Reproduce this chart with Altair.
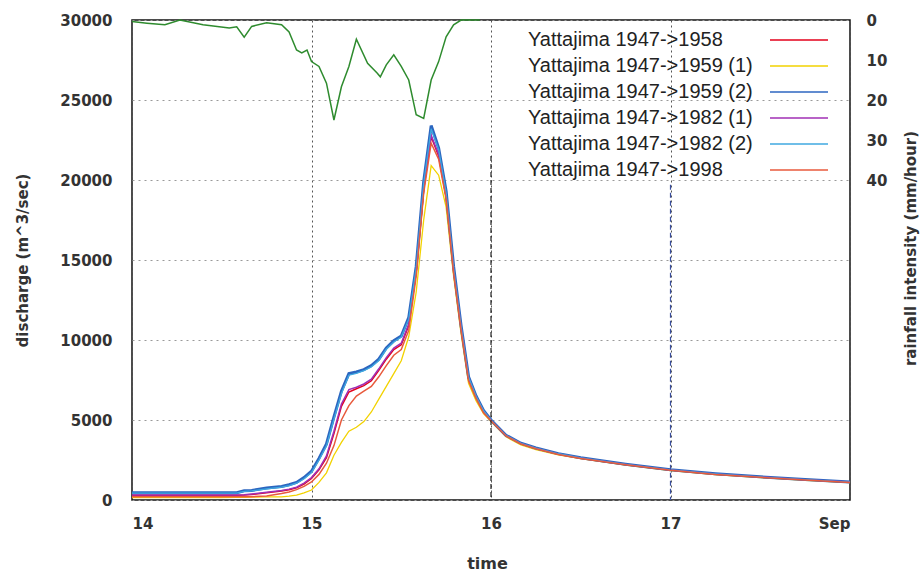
import altair as alt
import pandas as pd

# ---- data ----
hours = [0, 6, 12, 14, 15, 16, 18, 20, 21, 22, 23, 24, 25, 26, 27, 28, 29, 30, 31, 32,
         33, 34, 35, 36, 37, 38, 39, 40, 41, 42, 43, 44, 45, 46, 47, 48, 50, 52, 54, 57,
         60, 66, 72, 78, 84, 90, 96]

red_1958 = [290, 290, 290, 290, 310, 350, 450, 560, 640, 760, 1000, 1340, 1880, 2650, 4150,
            5850, 6750, 6950, 7150, 7450, 8100, 8800, 9400, 9700, 10900, 14250, 19400, 22700,
            21500, 18950, 14350, 10750, 7550, 6420, 5520, 4970, 4020, 3520, 3220, 2870, 2610,
            2210, 1870, 1610, 1430, 1260, 1110]
yellow_1959_1 = [150, 150, 150, 160, 170, 180, 190, 200, 240, 300, 450, 625, 1100, 1700, 2800,
                 3600, 4300, 4550, 4900, 5500, 6300, 7100, 7900, 8700, 10200, 13000, 17500, 20900,
                 20300, 18300, 14000, 10400, 7300, 6200, 5400, 4900, 3950, 3450, 3150, 2820, 2580,
                 2180, 1840, 1590, 1400, 1230, 1080]
blue_1959_2 = [456, 456, 456, 456, 580, 600, 750, 850, 950, 1100, 1400, 1800, 2600, 3500, 5200,
               6800, 7900, 8000, 8150, 8400, 8800, 9500, 9950, 10250, 11400, 14600, 19900, 23400,
               22000, 19300, 14600, 10900, 7700, 6500, 5600, 5000, 4050, 3550, 3250, 2900, 2640,
               2240, 1890, 1640, 1450, 1280, 1130]
purple_1982_1 = [310, 310, 310, 310, 330, 380, 480, 600, 680, 800, 1050, 1400, 1950, 2750, 4300,
                 6000, 6900, 7050, 7250, 7550, 8200, 8900, 9500, 9800, 11000, 14300, 19500, 22800,
                 21600, 19000, 14400, 10800, 7600, 6450, 5550, 4980, 4030, 3530, 3230, 2880, 2620,
                 2220, 1880, 1620, 1440, 1270, 1120]
lightblue_1982_2 = [430, 430, 430, 430, 540, 570, 700, 800, 900, 1050, 1330, 1720, 2500, 3380, 5050,
                    6650, 7800, 7920, 8080, 8320, 8720, 9420, 9880, 10180, 11300, 14500, 19800, 23200,
                    21900, 19200, 14500, 10850, 7680, 6480, 5590, 4990, 4040, 3540, 3240, 2890, 2630,
                    2230, 1880, 1630, 1440, 1270, 1120]
orange_1998 = [210, 210, 210, 210, 210, 210, 250, 400, 500, 650, 850, 1125, 1600, 2300, 3400,
               5000, 5900, 6500, 6800, 7100, 7700, 8400, 9050, 9400, 10600, 14000, 19200, 22300,
               21300, 18800, 14200, 10600, 7450, 6350, 5450, 4950, 4000, 3500, 3200, 2850, 2600,
               2200, 1860, 1600, 1420, 1250, 1100]

series_names = ["Yattajima 1947->1958", "Yattajima 1947->1959 (1)", "Yattajima 1947->1959 (2)",
                "Yattajima 1947->1982 (1)", "Yattajima 1947->1982 (2)", "Yattajima 1947->1998"]
series_colors = ["#e3001b", "#f2d200", "#2c66c0", "#a02fb4", "#3fa9e0", "#e85a3c"]
series_widths = [1.5, 1.3, 3.0, 1.5, 1.3, 1.5]

rain_hours = [0, 2, 4.4, 6.4, 9.5, 13, 14, 15, 16, 18, 20, 21, 22, 22.7, 23.4, 24, 25, 26, 27,
              28, 29, 30, 31.5, 32.8, 33.2, 34, 35, 36, 37, 38, 39, 40, 41, 42, 43, 44, 46.5]
rain_mm = [0.4, 0.8, 1.2, 0, 1.2, 2, 1.7, 4.3, 1.6, 0.7, 1.2, 3, 7.5, 8.2, 7.5, 10.4, 11.6, 15.8,
           25, 16.7, 11.6, 4.8, 10.8, 13.3, 14.2, 11.2, 8.7, 11.6, 15, 23.7, 24.6, 15, 10.4, 4.2,
           1.2, 0, 0]

marker_days = [16, 17]
marker_tops = [21500, 19700]
marker_colors = ["#222222", "#3a4fa0"]

x_ticks = [14, 15, 16, 17, 18]
y_ticks = [0, 5000, 10000, 15000, 20000, 25000, 30000]
rain_ticks = [0, 10, 20, 30, 40]

# ---- tables ----
all_series = [red_1958, yellow_1959_1, blue_1959_2, purple_1982_1, lightblue_1982_2, orange_1998]
frames = []
for name, vals, w in zip(series_names, all_series, series_widths):
    frames.append(pd.DataFrame({"day": [14 + h / 24 for h in hours], "q": vals,
                                "series": name, "label": name, "w": w}))
flow = pd.concat(frames, ignore_index=True)
rain = pd.DataFrame({"day": [14 + h / 24 for h in rain_hours], "rain": rain_mm})
markers = pd.DataFrame({"day": marker_days, "top": marker_tops, "bottom": [0, 0]})

FONT = "DejaVu Sans"

x_scale = alt.Scale(domain=[14, 18], nice=False, zero=False)
x_axis = alt.Axis(values=x_ticks,
                  labelExpr="datum.value == 18 ? 'Sep' : format(datum.value, 'd')",
                  title="time", titleX=355, titleY=63, titleBaseline="middle",
                  labelPadding=16, ticks=False, domain=False,
                  grid=True, gridColor="#555555", gridDash=[2, 3], gridWidth=1,
                  labelFont=FONT, labelFontSize=15, labelFontWeight="bold",
                  labelColor="#333333", titleFont=FONT, titleFontSize=16,
                  titleFontWeight="bold", titleColor="#333333")

q_scale = alt.Scale(domain=[0, 30000], nice=False)
q_axis = alt.Axis(values=y_ticks, format="d", title="discharge (m^3/sec)",
                  titleX=-110, titleY=240, titleAngle=270, titleBaseline="middle",
                  titleAlign="center",
                  labelPadding=20, ticks=False, domain=False,
                  grid=True, gridColor="#9a9a9a", gridDash=[2, 4], gridWidth=1,
                  labelFont=FONT, labelFontSize=15, labelFontWeight="bold",
                  labelColor="#333333", titleFont=FONT, titleFontSize=15,
                  titleFontWeight="bold", titleColor="#333333")

# legend of line samples (right column, no text)
sample_legend = alt.Legend(title=None, orient="none", legendX=637, legendY=7,
                           direction="vertical", symbolType="stroke", symbolSize=3364,
                           symbolStrokeWidth=1.6, padding=0, clipHeight=26, rowPadding=0,
                           labelExpr="''", labelFontSize=1, labelOffset=0)
# legend of names (left column, no sample)
name_legend = alt.Legend(title=None, orient="none", legendX=376, legendY=10,
                         direction="vertical", symbolType="circle", symbolSize=1,
                         symbolOpacity=0, symbolFillColor="transparent",
                         symbolStrokeColor="transparent", symbolStrokeWidth=0,
                         padding=0, rowPadding=6, labelOffset=0,
                         labelFont="Liberation Sans", labelFontSize=20,
                         labelColor="#222222", labelLimit=400)

lines = alt.Chart(flow).mark_line(interpolate="linear").encode(
    x=alt.X("day:Q", scale=x_scale, axis=x_axis),
    y=alt.Y("q:Q", scale=q_scale, axis=q_axis),
    color=alt.Color("series:N",
                    scale=alt.Scale(domain=series_names, range=series_colors),
                    legend=sample_legend),
    opacity=alt.Opacity("label:N",
                        scale=alt.Scale(range=[1] * len(series_names)),
                        legend=name_legend),
    strokeWidth=alt.StrokeWidth("w:Q", scale=None),
    order=alt.Order("day:Q"),
)

mark_rules = [
    alt.Chart(markers).transform_filter(alt.datum.day == d).mark_rule(
        color=c, strokeDash=[5, 3], strokeWidth=1.2
    ).encode(x=alt.X("day:Q", scale=x_scale, axis=x_axis),
             y=alt.Y("top:Q", scale=q_scale, axis=q_axis), y2="bottom:Q")
    for d, c in zip(marker_days, marker_colors)
]

left = alt.layer(lines, *mark_rules)

rain_line = alt.Chart(rain).mark_line(color="#2e8b2e", strokeWidth=1.5).encode(
    x=alt.X("day:Q", scale=x_scale, axis=x_axis),
    y=alt.Y("rain:Q",
            scale=alt.Scale(domain=[0, 120], reverse=True, nice=False),
            axis=alt.Axis(orient="right", values=rain_ticks, title="rainfall intensity (mm/hour)",
                          titleX=60, titleY=228, titleAngle=270, titleBaseline="middle",
                          titleAlign="center",
                          labelPadding=16, ticks=False, domain=False, grid=False,
                          labelFont=FONT, labelFontSize=15, labelFontWeight="bold",
                          labelColor="#333333", titleFont=FONT, titleFontSize=15,
                          titleFontWeight="bold", titleColor="#333333")),
)

chart = alt.layer(left, rain_line).resolve_scale(y="independent").properties(
    width=718, height=480,
    autosize=alt.AutoSizeParams(type="none"),
    padding={"left": 132, "top": 20, "right": 70, "bottom": 75},
    background="white",
).configure_view(stroke="#111111", strokeWidth=1.5)

chart.save("out.html", embed_options={"renderer": "svg", "actions": False})
